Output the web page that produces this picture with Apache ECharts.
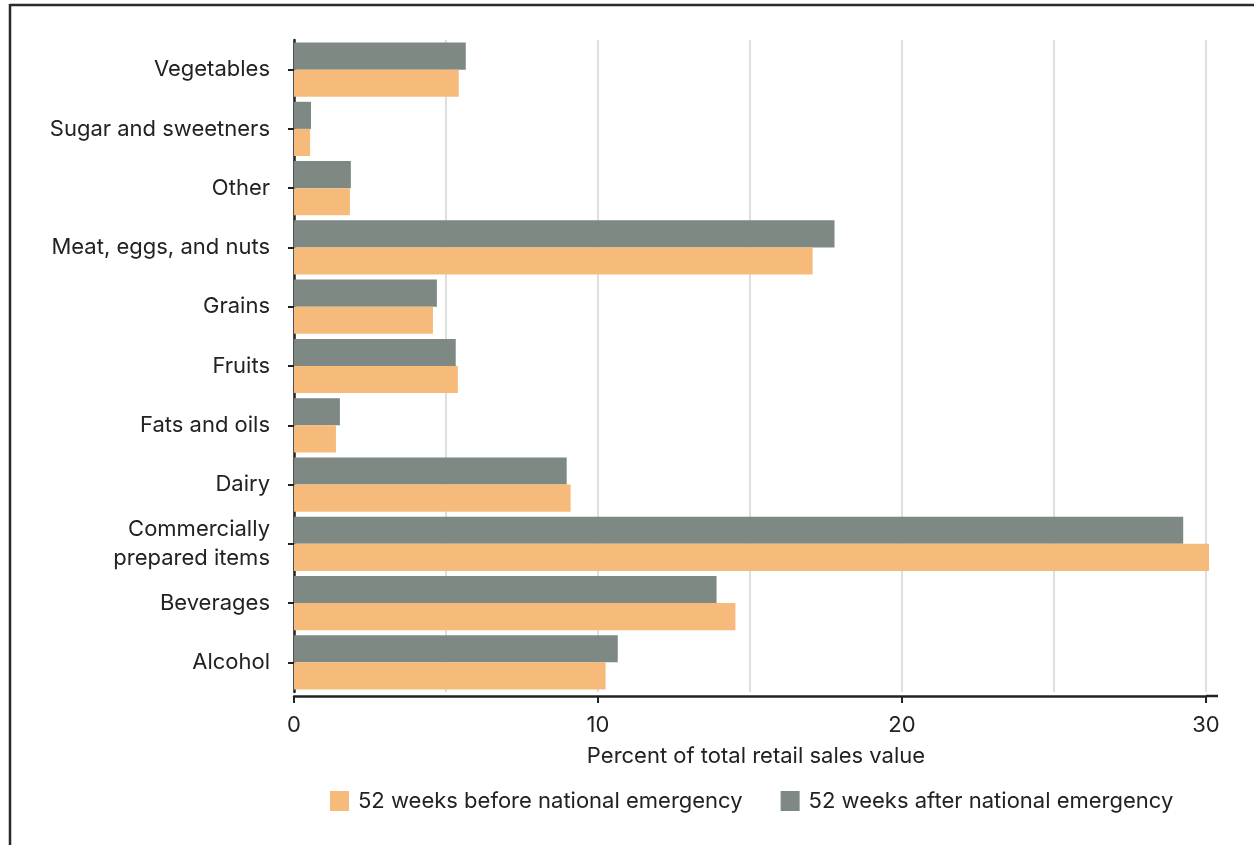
<!DOCTYPE html>
<html>
<head>
<meta charset="utf-8">
<script src="https://cdn.jsdelivr.net/npm/echarts@6/dist/echarts.min.js"></script>
<style>
html,body{margin:0;padding:0;background:#fff;}
#chart{width:1254px;height:845px;}
</style>
</head>
<body>
<div id="chart"></div>
<script>
const categories = ["Vegetables","Sugar and sweetners","Other","Meat, eggs, and nuts","Grains","Fruits","Fats and oils","Dairy","Commercially\nprepared items","Beverages","Alcohol"];
const beforeValues = [5.42, 0.53, 1.84, 17.06, 4.57, 5.39, 1.38, 9.10, 30.10, 14.52, 10.25];
const afterValues  = [5.65, 0.56, 1.87, 17.78, 4.70, 5.32, 1.51, 8.97, 29.25, 13.90, 10.65];
const seriesNames = ["52 weeks before national emergency","52 weeks after national emergency"];
const xAxisName = "Percent of total retail sales value";

const FONT = "Inter, 'Noto Sans', sans-serif";
const chart = echarts.init(document.getElementById('chart'));
const baseGraphic = [
  {type:'line',shape:{x1:10,y1:5,x2:1254,y2:5},style:{stroke:'#2a2a2a',lineWidth:2.5}},
  {type:'line',shape:{x1:10,y1:4,x2:10,y2:845},style:{stroke:'#2a2a2a',lineWidth:2.5}}
];
chart.setOption({
  animation:false,
  textStyle:{fontFamily:FONT},
  grid:{left:294,right:48,top:40,height:652,containLabel:false},
  legend:{
    data:seriesNames,
    top:785,left:325,
    itemWidth:19,itemHeight:20,itemGap:38,
    icon:'rect',
    textStyle:{fontSize:22,color:'#222',fontFamily:FONT,padding:[0,0,0,4]}
  },
  xAxis:{
    type:'value',min:0,max:30,interval:10,
    name:xAxisName,nameLocation:'middle',nameGap:49,
    nameTextStyle:{fontSize:22,color:'#222',padding:[0,0,0,12]},
    offset:4,
    axisLine:{show:true,lineStyle:{color:'#222',width:2.5}},
    axisTick:{show:true,length:7,lineStyle:{color:'#222',width:2}},
    axisLabel:{fontSize:22,color:'#222',margin:18},
    splitLine:{show:true,lineStyle:{color:'#d4d4d4',width:1.5}},
    minorTick:{show:false,splitNumber:2},
    minorSplitLine:{show:true,lineStyle:{color:'#d4d4d4',width:1.5}}
  },
  yAxis:{
    type:'category',data:categories,inverse:true,
    axisLine:{show:true,lineStyle:{color:'#222',width:2.5}},
    axisTick:{show:true,alignWithLabel:true,length:6,lineStyle:{color:'#222',width:2}},
    axisLabel:{fontSize:22,color:'#222',margin:24,lineHeight:29}
  },
  series:[
    {name:seriesNames[1],type:'bar',clip:false,data:afterValues,barGap:'0%',barCategoryGap:'8.5%',itemStyle:{color:'#7E8984'}},
    {name:seriesNames[0],type:'bar',clip:false,data:beforeValues,barGap:'0%',barCategoryGap:'8.5%',itemStyle:{color:'#F6BB7B'}}
  ],
  graphic:baseGraphic
});
// extend the x axis line slightly past 30, as in the reference
const p30 = chart.convertToPixel({xAxisIndex:0},30);
const gridBottom = 40+652+4;
chart.setOption({graphic:baseGraphic.concat([
  {type:'line',shape:{x1:p30,y1:gridBottom,x2:p30+12,y2:gridBottom},style:{stroke:'#222',lineWidth:2.5}}
])});
</script>
</body>
</html>
